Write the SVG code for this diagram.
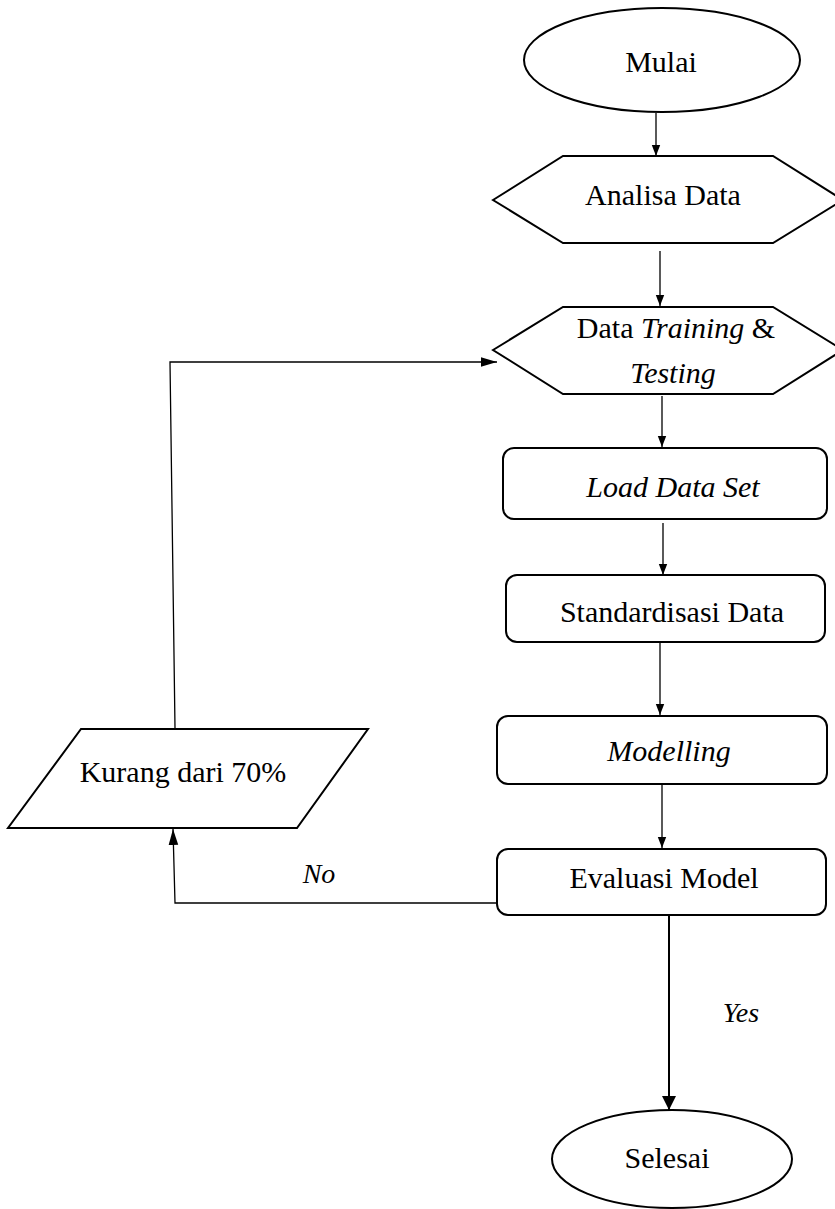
<svg xmlns="http://www.w3.org/2000/svg" width="835" height="1209" viewBox="0 0 835 1209">
<style>
.shape{fill:#fff;stroke:#000;stroke-width:2}
.conn{fill:none;stroke:#000;stroke-width:1.3}
.thick{stroke-width:2}
text{font-family:"Liberation Serif","Times New Roman",serif;font-size:30px;fill:#000;text-anchor:middle}
.it{font-style:italic}
.lbl{font-size:28px}
</style>
<defs>
<marker id="ah" viewBox="0 0 10 10" refX="10" refY="5" markerWidth="11" markerHeight="11" markerUnits="userSpaceOnUse" orient="auto">
<path d="M0,1.2 L10,5 L0,8.8 z" fill="#000"/>
</marker>
<marker id="ahLong" viewBox="0 0 10 10" refX="10" refY="5" markerWidth="16" markerHeight="16" markerUnits="userSpaceOnUse" orient="auto">
<path d="M0,2 L10,5 L0,8 z" fill="#000"/>
</marker>
<marker id="ah2" viewBox="0 0 10 10" refX="10" refY="5" markerWidth="14" markerHeight="14" markerUnits="userSpaceOnUse" orient="auto">
<path d="M0,0 L10,5 L0,10 z" fill="#000"/>
</marker>
</defs>
<rect width="835" height="1209" fill="#fff"/>
<g id="connectors">
<line class="conn" x1="656" y1="113" x2="656" y2="156" marker-end="url(#ah)"/>
<line class="conn" x1="660" y1="251" x2="660" y2="306" marker-end="url(#ah)"/>
<line class="conn" x1="662" y1="396" x2="662" y2="447" marker-end="url(#ah)"/>
<line class="conn" x1="663" y1="523" x2="663" y2="575" marker-end="url(#ah)"/>
<line class="conn" x1="660" y1="642" x2="660" y2="715" marker-end="url(#ah)"/>
<line class="conn" x1="662" y1="784" x2="662" y2="848" marker-end="url(#ah)"/>
<polyline class="conn" points="500,903 175,903 173,829" marker-end="url(#ahLong)"/>
<polyline class="conn" points="175,728 170,362 497,362" marker-end="url(#ahLong)"/>
<line class="conn thick" x1="669" y1="915" x2="669" y2="1110" marker-end="url(#ah2)"/>
<text class="it lbl" x="319" y="883">No</text>
<text class="it lbl" x="741" y="1022">Yes</text>
</g>
<g id="mulai">
<ellipse class="shape" cx="662" cy="60" rx="138" ry="52"/>
<text x="661" y="72">Mulai</text>
</g>
<g id="analisa">
<polygon class="shape" points="493,200 563,156 773,156 843,200 773,243 563,243"/>
<text x="663" y="205">Analisa Data</text>
</g>
<g id="datatraining">
<polygon class="shape" points="493,350 563,307 773,307 843,350 773,394 563,394"/>
<text x="676" y="338">Data <tspan class="it">Training</tspan> &amp;</text>
<text class="it" x="673" y="383">Testing</text>
</g>
<g id="load">
<rect class="shape" x="503" y="448" width="324" height="71" rx="11"/>
<text class="it" x="673" y="497">Load Data Set</text>
</g>
<g id="standardisasi">
<rect class="shape" x="506" y="575" width="319" height="67" rx="11"/>
<text x="672" y="622">Standardisasi Data</text>
</g>
<g id="modelling">
<rect class="shape" x="497" y="716" width="330" height="68" rx="11"/>
<text class="it" x="669" y="761">Modelling</text>
</g>
<g id="evaluasi">
<rect class="shape" x="497" y="849" width="329" height="66" rx="11"/>
<text x="664" y="888">Evaluasi Model</text>
</g>
<g id="kurang">
<polygon class="shape" points="81,729 368,729 297,828 8,828"/>
<text x="183" y="782">Kurang dari 70%</text>
</g>
<g id="selesai">
<ellipse class="shape" cx="672" cy="1159" rx="120" ry="49"/>
<text x="667" y="1168">Selesai</text>
</g>
</svg>
